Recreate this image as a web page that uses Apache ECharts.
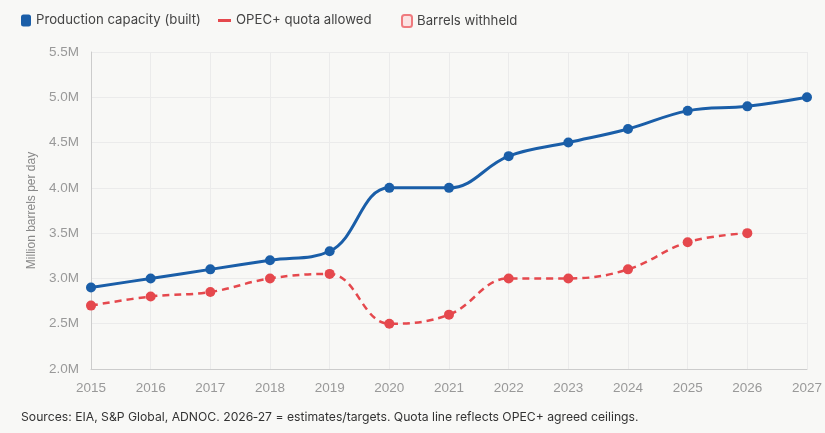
<!DOCTYPE html>
<html><head><meta charset="utf-8">
<script src="https://cdn.jsdelivr.net/npm/echarts@6/dist/echarts.min.js"></script>
<style>html,body{margin:0;padding:0;background:#f8f8f6;}#c{width:825px;height:433px;}</style>
</head><body><div id="c"></div>
<script>
const years = ['2015','2016','2017','2018','2019','2020','2021','2022','2023','2024','2025','2026','2027'];
const capacity = [2.9, 3.0, 3.1, 3.2, 3.3, 4.0, 4.0, 4.35, 4.5, 4.65, 4.85, 4.9, 5.0];
const quota = [2.7, 2.8, 2.85, 3.0, 3.05, 2.5, 2.6, 3.0, 3.0, 3.1, 3.4, 3.5, null];
const footer = 'Sources: EIA, S&P Global, ADNOC. 2026\u201127 = estimates/targets. Quota line reflects OPEC+ agreed ceilings.';

const BLUE = '#1a5ea8', RED = '#e5484d';
const legendText = {fontSize: 13.2, color: '#444', fontFamily: 'Inter, sans-serif'};
const axisFont = '"Liberation Sans", Arial, sans-serif';

const chart = echarts.init(document.getElementById('c'));
chart.setOption({
  backgroundColor: '#f8f8f6',
  animation: false,
  textStyle: {fontFamily: 'Inter, "Noto Sans", sans-serif'},
  legend: [
    {left: 16, top: 9, itemWidth: 10, itemHeight: 12, textStyle: legendText,
     data: [{name: 'Production capacity (built)', icon: 'roundRect'}]},
    {left: 213, top: 9, itemWidth: 13, itemHeight: 3, textStyle: legendText,
     data: [{name: 'OPEC+ quota allowed', icon: 'rect'}]},
    {left: 396, top: 9, itemWidth: 10, itemHeight: 12, textStyle: legendText,
     data: [{name: 'Barrels withheld', icon: 'roundRect'}]}
  ],
  grid: {left: 91, right: 12, top: 52, bottom: 64},
  xAxis: {
    type: 'category', data: years, boundaryGap: false,
    axisLine: {lineStyle: {color: '#cccccc'}},
    axisTick: {show: false},
    axisLabel: {color: '#999', fontSize: 13.5, margin: 12, fontFamily: axisFont},
    splitLine: {show: true, lineStyle: {color: '#ebebeb'}}
  },
  yAxis: {
    type: 'value', min: 2.0, max: 5.5, interval: 0.5,
    name: 'Million barrels per day', nameLocation: 'middle', nameGap: 53,
    nameTextStyle: {color: '#888', fontSize: 12, fontFamily: axisFont},
    axisLine: {show: true, lineStyle: {color: '#cccccc'}},
    axisTick: {show: false},
    axisLabel: {color: '#999', fontSize: 13.5, margin: 12, fontFamily: axisFont,
      formatter: v => v.toFixed(1) + 'M'},
    splitLine: {lineStyle: {color: '#ebebeb'}}
  },
  graphic: [{
    type: 'text', left: 21, top: 411,
    style: {text: footer, fill: '#333', fontSize: 12.2, fontFamily: 'Inter, sans-serif'}
  }],
  series: [
    {
      name: 'Production capacity (built)', type: 'line', data: capacity, smooth: 0.4,
      symbol: 'circle', symbolSize: 10,
      lineStyle: {color: BLUE, width: 3},
      itemStyle: {color: BLUE}, z: 3
    },
    {
      name: 'OPEC+ quota allowed', type: 'line', data: quota, smooth: 0.4,
      symbol: 'circle', symbolSize: 10,
      lineStyle: {color: RED, width: 2.5, type: [7, 5]},
      itemStyle: {color: RED}, z: 2
    },
    {
      name: 'Barrels withheld', type: 'line', data: [],
      lineStyle: {opacity: 0},
      itemStyle: {color: '#fbe2e2', borderColor: '#ef7a7e', borderWidth: 1, borderType: 'dashed'}
    }
  ]
});
</script></body></html>
